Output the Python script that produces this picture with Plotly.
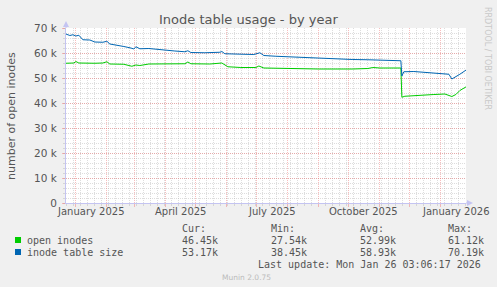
import plotly.graph_objects as go

# ---------------- data ----------------
table_dates = ["2024-12-22", "2024-12-26", "2024-12-29", "2025-01-01", "2025-01-04", "2025-01-08",
               "2025-01-15", "2025-01-20", "2025-01-28", "2025-02-01", "2025-02-04", "2025-02-12",
               "2025-02-18", "2025-02-25", "2025-02-28", "2025-03-02", "2025-03-06", "2025-03-15",
               "2025-03-25", "2025-04-01", "2025-04-10", "2025-04-20", "2025-04-23", "2025-04-26",
               "2025-05-10", "2025-05-25", "2025-05-27", "2025-05-30", "2025-06-15", "2025-06-28",
               "2025-07-04", "2025-07-08", "2025-07-20", "2025-08-05", "2025-08-25", "2025-09-10",
               "2025-09-28", "2025-10-05", "2025-10-20", "2025-11-01", "2025-11-10", "2025-11-22",
               "2025-11-23", "2025-11-25", "2025-12-05", "2025-12-15", "2025-12-25", "2026-01-05",
               "2026-01-09", "2026-01-12", "2026-01-16", "2026-01-20", "2026-01-26 03:06"]
table_size = [67600, 67000, 67300, 66800, 67100, 65300,
              65200, 64400, 64300, 64700, 63600, 63200,
              62600, 62000, 61600, 62500, 61700, 61800,
              61300, 61200, 60800, 60500, 60900, 60200,
              60100, 60300, 60600, 59700, 59600, 59400,
              60100, 59000, 58700, 58400, 58100, 57900,
              57500, 57400, 57300, 57200, 57000, 56900,
              50800, 52500, 52600, 52300, 51800, 51700,
              51500, 49600, 50400, 51500, 53170]

open_dates = ["2024-12-22", "2024-12-30", "2025-01-01", "2025-01-04", "2025-01-20", "2025-01-28",
              "2025-02-01", "2025-02-04", "2025-02-18", "2025-02-26", "2025-03-02", "2025-03-06",
              "2025-03-15", "2025-03-30", "2025-04-15", "2025-04-20", "2025-04-23", "2025-04-26",
              "2025-05-15", "2025-05-27", "2025-06-02", "2025-06-15", "2025-06-30", "2025-07-03",
              "2025-07-08", "2025-08-01", "2025-09-01", "2025-10-05", "2025-10-20", "2025-10-25",
              "2025-11-01", "2025-11-22", "2025-11-23", "2025-11-26", "2025-12-05", "2025-12-15",
              "2025-12-25", "2026-01-05", "2026-01-09", "2026-01-12", "2026-01-16", "2026-01-20",
              "2026-01-26 03:06"]
open_inodes = [55900, 56000, 56600, 56000, 55900, 56000,
               56500, 55600, 55500, 54700, 55200, 55000,
               55600, 55600, 55800, 55700, 56400, 55700,
               55600, 56000, 54500, 54200, 54200, 54800,
               54000, 53800, 53600, 53600, 53800, 54200,
               54000, 54000, 42300, 42700, 43000, 43300,
               43400, 43600, 43200, 42600, 43400, 45000,
               46450]

series_names = ["open inodes", "inode table size"]
series_colors = ["#00CC00", "#0066B3"]
stat_headers = ["Cur:", "Min:", "Avg:", "Max:"]
stats_open = ["46.45k", "27.54k", "52.99k", "61.12k"]
stats_table = ["53.17k", "38.45k", "58.93k", "70.19k"]

y_tickvals = [0, 10000, 20000, 30000, 40000, 50000, 60000, 70000]
y_ticktext = ["0", "10 k", "20 k", "30 k", "40 k", "50 k", "60 k", "70 k"]
x_label_dates = ["2025-01-16", "2025-04-16", "2025-07-16", "2025-10-16", "2026-01-16"]
x_label_text = ["January 2025", "April 2025", "July 2025", "October 2025", "January 2026"]

title_text = "Inode table usage - by year"
y_title = "number of open inodes"
last_update = "Last update: Mon Jan 26 03:06:17 2026"
munin_text = "Munin 2.0.75"
side_text = "RRDTOOL / TOBI OETIKER"

# ---------------- layout geometry ----------------
W, H = 497, 287
L, R, T, B = 66, 466, 28, 203


def px(x):
    return (x - L) / (R - L)


def py(y):
    return (B - y) / (B - T)


FONT = "DejaVu Sans"
MONO = "DejaVu Sans Mono"
TXT = "#555555"
MAJOR = "rgba(240,110,110,0.45)"
MINOR = "rgba(180,180,180,0.45)"
AXIS = "#C4C4F2"

fig = go.Figure()
fig.add_trace(go.Scatter(x=open_dates, y=open_inodes, mode="lines", name=series_names[0],
                         line=dict(color=series_colors[0], width=1)))
fig.add_trace(go.Scatter(x=table_dates, y=table_size, mode="lines", name=series_names[1],
                         line=dict(color=series_colors[1], width=1)))

fig.update_layout(
    width=W, height=H,
    margin=dict(l=L, r=W - R, t=T, b=H - B, pad=0),
    paper_bgcolor="#F0F0F0", plot_bgcolor="#FFFFFF",
    showlegend=False,
    font=dict(family=FONT, size=10, color=TXT),
)

fig.update_xaxes(
    type="date", range=["2024-12-22 03:06:17", "2026-01-26 03:06:17"],
    automargin=False, showticklabels=False,
    tick0="2025-01-01", dtick="M1",
    showgrid=True, gridcolor=MAJOR, griddash="1px,1px", gridwidth=1,
    ticks="outside", ticklen=3, tickcolor=MAJOR,
    minor=dict(tick0="2024-12-23", dtick=7 * 86400000, showgrid=True, gridcolor=MINOR,
               griddash="1px,1px", ticks="outside", ticklen=2, tickcolor=MINOR),
    showline=True, linecolor=AXIS, linewidth=1, zeroline=False,
)
fig.update_yaxes(
    range=[0, 70000], automargin=False,
    tickvals=y_tickvals, ticktext=y_ticktext,
    tickfont=dict(family=FONT, size=10.5, color=TXT),
    showgrid=True, gridcolor=MAJOR, griddash="1px,1px", gridwidth=1,
    ticks="outside", ticklen=3, tickcolor=MAJOR, ticklabelstandoff=3,
    minor=dict(dtick=2000, showgrid=True, gridcolor=MINOR, griddash="1px,1px",
               ticks="outside", ticklen=2, tickcolor=MINOR),
    showline=True, linecolor=AXIS, linewidth=1, zeroline=False,
)

# axis arrows
fig.add_shape(type="path", xref="paper", yref="paper", line_width=0, fillcolor=AXIS,
              path=f"M {px(L-3)} {py(T-1)} L {px(L+3)} {py(T-1)} L {px(L)} {py(T-7)} Z")
fig.add_shape(type="line", xref="paper", yref="paper", x0=0, x1=0, y0=1, y1=py(T-2),
              line=dict(color=AXIS, width=1))
fig.add_shape(type="path", xref="paper", yref="paper", line_width=0, fillcolor=AXIS,
              path=f"M {px(R+1)} {py(B-3)} L {px(R+1)} {py(B+3)} L {px(R+7)} {py(B)} Z")
fig.add_shape(type="line", xref="paper", yref="paper", x0=1, x1=px(R+2), y0=0, y1=0,
              line=dict(color=AXIS, width=1))

ann = []
# x labels
for d, t in zip(x_label_dates, x_label_text):
    ann.append(dict(x=d, xref="x", y=0, yref="paper", yanchor="top", xanchor="center",
                    yshift=-2, text=t, showarrow=False, font=dict(size=10, color=TXT)))
# title
ann.append(dict(x=px(248), y=py(19), xref="paper", yref="paper", text=title_text,
                showarrow=False, xanchor="center", yanchor="middle",
                font=dict(size=13, color=TXT)))
# y title
ann.append(dict(x=px(11), y=py(116), xref="paper", yref="paper", text=y_title,
                showarrow=False, xanchor="center", yanchor="middle", textangle=-90,
                font=dict(size=11, color=TXT)))
# side text
ann.append(dict(x=px(487), y=py(58), xref="paper", yref="paper", text=side_text,
                showarrow=False, xanchor="center", yanchor="middle", textangle=90,
                font=dict(size=8, color="#C8C8C8")))
# legend headers
hdr_x = [181, 270, 359, 447]
for hx, h in zip(hdr_x, stat_headers):
    ann.append(dict(x=px(hx), y=py(228), xref="paper", yref="paper", text=h, showarrow=False,
                    xanchor="left", yanchor="middle", font=dict(family=MONO, size=10, color=TXT)))
rows = [(240, series_names[0], stats_open, series_colors[0]),
        (252, series_names[1], stats_table, series_colors[1])]
for ry, name, vals, col in rows:
    fig.add_shape(type="rect", xref="paper", yref="paper", x0=px(15), x1=px(21),
                  y0=py(ry + 3), y1=py(ry - 3), fillcolor=col, line_width=0)
    ann.append(dict(x=px(26), y=py(ry), xref="paper", yref="paper", text=name, showarrow=False,
                    xanchor="left", yanchor="middle", font=dict(family=MONO, size=10, color=TXT)))
    for hx, v in zip(hdr_x, vals):
        ann.append(dict(x=px(hx), y=py(ry), xref="paper", yref="paper", text=v, showarrow=False,
                        xanchor="left", yanchor="middle", font=dict(family=MONO, size=10, color=TXT)))
ann.append(dict(x=px(482), y=py(264), xref="paper", yref="paper", text=last_update,
                showarrow=False, xanchor="right", yanchor="middle",
                font=dict(family=MONO, size=10, color=TXT)))
ann.append(dict(x=px(246), y=py(277), xref="paper", yref="paper", text=munin_text,
                showarrow=False, xanchor="center", yanchor="middle",
                font=dict(size=7.5, color="#BBBBBB")))
for a in ann:
    a.setdefault("borderpad", 0)
fig.update_layout(annotations=ann)

fig.write_html("out.html")
